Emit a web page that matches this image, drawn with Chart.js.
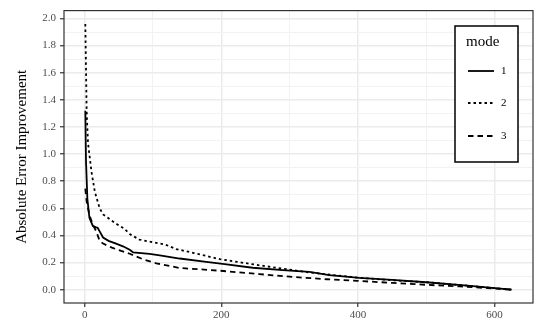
<!DOCTYPE html>
<html>
<head>
<meta charset="utf-8">
<script src="https://cdn.jsdelivr.net/npm/chart.js@4.4.1/dist/chart.umd.min.js"></script>
<style>
  html, body { margin: 0; padding: 0; background: #fff; }
</style>
</head>
<body>
<canvas id="modeChart" width="542" height="324"></canvas>
<script>
// values
const modeLabels = ['1', '2', '3']

const mode1X = [1, 2, 4, 7, 12, 17, 19, 22, 27, 35, 46, 56, 66, 71, 95, 110, 139, 178, 202, 246, 290, 329, 358, 402, 450, 500, 560, 625]
const mode1Y = [1.32, 0.95, 0.67, 0.53, 0.47, 0.46, 0.457, 0.43, 0.385, 0.36, 0.34, 0.32, 0.295, 0.275, 0.265, 0.253, 0.23, 0.205, 0.19, 0.162, 0.145, 0.132, 0.108, 0.087, 0.072, 0.055, 0.03, 0.0]

const mode2X = [1, 3, 5, 10, 15, 22, 27, 34, 45, 58, 66, 80, 110, 117, 134, 160, 198, 230, 256, 290, 325, 360, 402, 450, 500, 560, 625]
const mode2Y = [1.96, 1.3, 1.08, 0.87, 0.72, 0.6, 0.555, 0.53, 0.49, 0.45, 0.41, 0.37, 0.34, 0.335, 0.3, 0.27, 0.225, 0.2, 0.18, 0.155, 0.13, 0.11, 0.088, 0.07, 0.055, 0.03, 0.0]

const mode3X = [1, 3, 7, 12, 17, 22, 27, 40, 66, 85, 105, 139, 170, 198, 256, 300, 354, 400, 451, 500, 549, 590, 625]
const mode3Y = [0.745, 0.65, 0.55, 0.48, 0.43, 0.36, 0.34, 0.31, 0.265, 0.225, 0.195, 0.16, 0.15, 0.14, 0.115, 0.096, 0.077, 0.065, 0.05, 0.036, 0.024, 0.012, 0.0]

const xTickValues = [0, 100, 200, 300, 400, 500, 600]
const yTickValues = [0, 0.1, 0.2, 0.3, 0.4, 0.5, 0.6, 0.7, 0.8, 0.9, 1.0, 1.1, 1.2, 1.3, 1.4, 1.5, 1.6, 1.7, 1.8, 1.9, 2.0]

const serif = '"Liberation Serif", "DejaVu Serif", serif'

const toPoints = (xs, ys) => xs.map((x, i) => ({ x, y: ys[i] }))

const isMajorX = (v) => v % 200 === 0
const isMajorY = (v) => Math.round(v * 10) % 2 === 0

// ggplot-like panel border
const panelBorder = {
  id: 'panelBorder',
  afterDatasetsDraw (chart) {
    const { ctx, chartArea: a } = chart
    ctx.save()
    ctx.strokeStyle = '#333333'
    ctx.lineWidth = 1.2
    ctx.strokeRect(a.left, a.top, a.right - a.left, a.bottom - a.top)
    ctx.restore()
  }
}

// boxed legend in the top right, like the reference
const boxLegend = {
  id: 'boxLegend',
  afterDraw (chart) {
    const { ctx } = chart
    const box = { x: 455, y: 26, w: 63, h: 136 }
    ctx.save()
    ctx.fillStyle = '#ffffff'
    ctx.fillRect(box.x, box.y, box.w, box.h)
    ctx.strokeStyle = '#000000'
    ctx.lineWidth = 1.5
    ctx.strokeRect(box.x, box.y, box.w, box.h)

    ctx.fillStyle = '#000000'
    ctx.font = '15px ' + serif
    ctx.textBaseline = 'alphabetic'
    ctx.textAlign = 'left'
    ctx.fillText('mode', 466, 46)

    const rows = [71, 103, 136]
    chart.data.datasets.forEach((ds, i) => {
      const y = rows[i]
      ctx.beginPath()
      ctx.setLineDash(ds.borderDash || [])
      ctx.lineWidth = ds.borderWidth
      ctx.strokeStyle = ds.borderColor
      ctx.moveTo(468, y)
      ctx.lineTo(494, y)
      ctx.stroke()
      ctx.setLineDash([])
      ctx.fillStyle = '#000000'
      ctx.font = '11px ' + serif
      ctx.textBaseline = 'middle'
      ctx.fillText(ds.label, 501, y + 0.5)
    })
    ctx.restore()
  }
}

new Chart(document.getElementById('modeChart'), {
  type: 'line',
  data: {
    datasets: [
      {
        label: modeLabels[0],
        data: toPoints(mode1X, mode1Y),
        borderColor: '#000000',
        borderWidth: 1.8,
        borderDash: []
      },
      {
        label: modeLabels[1],
        data: toPoints(mode2X, mode2Y),
        borderColor: '#000000',
        borderWidth: 1.8,
        borderDash: [2.5, 3]
      },
      {
        label: modeLabels[2],
        data: toPoints(mode3X, mode3Y),
        borderColor: '#000000',
        borderWidth: 1.8,
        borderDash: [5.5, 4]
      }
    ]
  },
  options: {
    responsive: false,
    animation: false,
    devicePixelRatio: 1,
    layout: { padding: { left: 0, right: 9, top: 5, bottom: 0 } },
    elements: {
      point: { radius: 0, hoverRadius: 0 },
      line: { tension: 0, fill: false }
    },
    plugins: {
      legend: { display: false },
      tooltip: { enabled: false }
    },
    scales: {
      x: {
        type: 'linear',
        min: -30.2,
        max: 656.2,
        afterBuildTicks: (scale) => {
          scale.ticks = xTickValues.map(v => ({ value: v }))
        },
        afterFit: (scale) => { scale.height = 21 },
        border: { display: false },
        grid: {
          color: (c) => isMajorX(c.tick.value) ? '#ebebeb' : '#f2f2f2',
          lineWidth: (c) => isMajorX(c.tick.value) ? 1.5 : 1,
          tickColor: (c) => isMajorX(c.tick.value) ? '#333333' : 'rgba(0,0,0,0)',
          tickLength: 4,
          tickWidth: 1.2
        },
        ticks: {
          autoSkip: false,
          maxRotation: 0,
          padding: 2,
          color: '#4d4d4d',
          font: { family: serif, size: 11 },
          callback: (v) => isMajorX(v) ? String(v) : ''
        }
      },
      y: {
        type: 'linear',
        min: -0.098,
        max: 2.058,
        afterBuildTicks: (scale) => {
          scale.ticks = yTickValues.map(v => ({ value: v }))
        },
        afterFit: (scale) => { scale.width = 64 },
        border: { display: false },
        grid: {
          color: (c) => isMajorY(c.tick.value) ? '#ebebeb' : '#f2f2f2',
          lineWidth: (c) => isMajorY(c.tick.value) ? 1.5 : 1,
          tickColor: (c) => isMajorY(c.tick.value) ? '#333333' : 'rgba(0,0,0,0)',
          tickLength: 4,
          tickWidth: 1.2
        },
        ticks: {
          autoSkip: false,
          padding: 4,
          color: '#4d4d4d',
          font: { family: serif, size: 11 },
          callback: (v) => isMajorY(v) ? v.toFixed(1) : ''
        },
        title: {
          display: true,
          text: 'Absolute Error Improvement',
          color: '#000000',
          font: { family: serif, size: 15 },
          padding: { top: 13, bottom: 0 }
        }
      }
    }
  },
  plugins: [panelBorder, boxLegend]
})
</script>
</body>
</html>
